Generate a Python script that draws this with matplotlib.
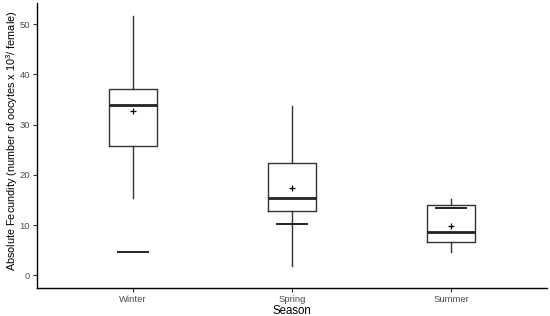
import matplotlib
matplotlib.use("Agg")
import matplotlib.pyplot as plt
import numpy as np

plt.rcParams['font.family'] = ['Liberation Sans', 'DejaVu Sans']
plt.rcParams['mathtext.fontset'] = 'custom'
plt.rcParams['mathtext.rm'] = 'Liberation Sans'
plt.rcParams['mathtext.it'] = 'Liberation Sans:italic'

seasons = ["Winter", "Spring", "Summer"]
whislo = [15.4, 1.9, 4.7]
q1 = [25.7, 12.8, 6.6]
med = [34.0, 15.5, 8.7]
q3 = [37.1, 22.3, 14.0]
whishi = [51.6, 33.8, 15.3]
means = [32.8, 17.3, 9.8]
extra = [4.6, 10.3, 13.5]
yticks = [0, 10, 20, 30, 40, 50]

fig = plt.figure(figsize=(5.5, 3.16), dpi=100)
ax = fig.add_axes([37/550, 1 - 288/316, 510/550, 285/316])

pos = np.arange(1, len(seasons) + 1)
stats = []
for i in range(len(seasons)):
    stats.append(dict(whislo=whislo[i], q1=q1[i], med=med[i], q3=q3[i],
                      whishi=whishi[i], fliers=[], mean=means[i]))
ax.bxp(stats, positions=pos, widths=0.3, showcaps=False, showfliers=False,
       boxprops=dict(color="#333333", linewidth=1.0),
       whiskerprops=dict(color="#333333", linewidth=1.0),
       medianprops=dict(color="#222222", linewidth=2.0),
       manage_ticks=False)
ax.scatter(pos, means, marker="+", color="black", s=22, linewidths=0.9, zorder=5)
ax.hlines(extra, pos - 0.1, pos + 0.1, color="#111111", linewidth=1.3, zorder=4)

ax.set_xlim(0.4, 3.6)
ax.set_ylim(-2.5, 54.2)
ax.set_xticks(pos)
ax.set_xticklabels(seasons)
ax.set_yticks(yticks)
for s in ["top", "right"]:
    ax.spines[s].set_visible(False)
for s in ["left", "bottom"]:
    ax.spines[s].set_color("black")
    ax.spines[s].set_linewidth(1.0)
ax.tick_params(axis="both", colors="#333333", labelcolor="#4D4D4D",
               labelsize=6.8, length=3, width=0.8, pad=2)
ax.set_xlabel("Season", fontsize=8.3, color="black", labelpad=1)
fig.text(12/550, 1 - 141/316,
         "Absolute Fecundity (number of oocytes x 10$^3$/ female)",
         fontsize=7.8, color="black", rotation=90, ha="center", va="center")

fig.savefig("out.png", dpi=100)
